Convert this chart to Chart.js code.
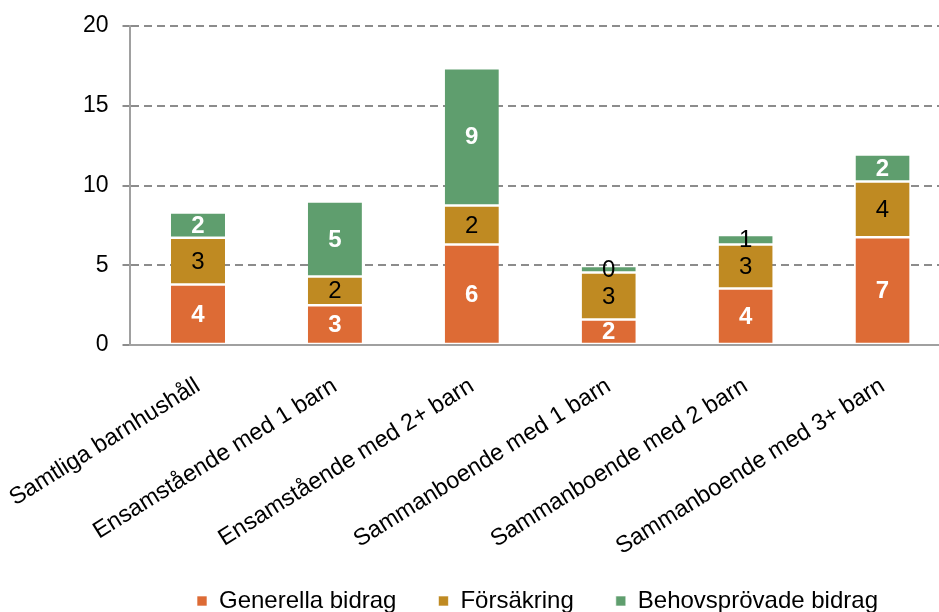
<!DOCTYPE html>
<html>
<head>
<meta charset="utf-8">
<script src="https://cdn.jsdelivr.net/npm/chart.js@4.4.1/dist/chart.umd.min.js"></script>
<style>
    html, body { margin: 0; padding: 0; background: #fff; overflow: hidden; }
</style>
</head>
<body>
<canvas id="chart" width="951" height="612"></canvas>
<script>
// данные диаграммы
const categories = [
    'Samtliga barnhushåll',
    'Ensamstående med 1 barn',
    'Ensamstående med 2+ barn',
    'Sammanboende med 1 barn',
    'Sammanboende med 2 barn',
    'Sammanboende med 3+ barn'
];
const generellaBidrag = [3.8, 2.5, 6.3, 1.6, 3.55, 6.75];
const forsakring = [2.93, 1.8, 2.45, 2.95, 2.75, 3.5];
const behovsprovadeBidrag = [1.57, 4.7, 8.6, 0.4, 0.6, 1.7];
const yTicks = [0, 5, 10, 15, 20];

const FONT = '"Liberation Sans", Arial, sans-serif';

// подписи внутри сегментов
const segmentLabels = {
    id: 'segmentLabels',
    afterDatasetsDraw(chart) {
        const ctx = chart.ctx;
        chart.data.datasets.forEach((ds, i) => {
            const meta = chart.getDatasetMeta(i);
            meta.data.forEach((bar, j) => {
                const v = ds.data[j];
                const {x, y, base} = bar.getProps(['x', 'y', 'base'], true);
                const bold = ds.labelBold && v >= 1; // маленькие сегменты - черный текст
                ctx.save();
                ctx.font = (bold ? 'bold ' : '') + '24px ' + FONT;
                ctx.fillStyle = bold ? '#ffffff' : '#000000';
                ctx.textAlign = 'center';
                ctx.textBaseline = 'middle';
                ctx.fillText(String(Math.round(v)), x, (y + base) / 2 + 1);
                ctx.restore();
            });
        });
    }
};

// легенда как в оригинале (первый квадрат x ~197, текст на y ~601),
// и подписи оси x не обрезаются снизу
const layoutFix = {
    id: 'layoutFix',
    afterLayout(chart) {
        const lg = chart.legend;
        const pad = lg.options.labels.padding;
        const h = lg.bottom - lg.top;
        lg.left = 197 - pad;
        lg.right = chart.width;
        lg.top = 601 - pad - 12;
        lg.bottom = lg.top + h;
        chart.scales.x.bottom = chart.height;
    }
};

new Chart(document.getElementById('chart'), {
    type: 'bar',
    data: {
        labels: categories,
        datasets: [
            {label: 'Generella bidrag', data: generellaBidrag, backgroundColor: '#dd6b35', labelBold: true},
            {label: 'Försäkring', data: forsakring, backgroundColor: '#bf8a22', labelBold: false},
            {label: 'Behovsprövade bidrag', data: behovsprovadeBidrag, backgroundColor: '#5f9e6e', labelBold: true}
        ]
    },
    options: {
        responsive: false,
        animation: false,
        datasets: {
            bar: {
                categoryPercentage: 1,
                barPercentage: 0.395,
                borderColor: '#ffffff',
                borderWidth: {top: 1.25, bottom: 1.25, left: 0, right: 0},
                borderSkipped: false
            }
        },
        layout: {padding: {top: 26, left: 0, right: 0, bottom: 0}},
        scales: {
            x: {
                stacked: true,
                z: 1,
                grid: {display: false},
                border: {display: true, color: '#a0a0a0', width: 2},
                ticks: {
                    color: '#000',
                    font: {family: FONT, size: 23.5},
                    minRotation: 32,
                    maxRotation: 32,
                    autoSkip: false,
                    padding: 19
                },
                afterFit(axis) {
                    axis.height = 191;
                    axis.paddingLeft = 0;
                    axis.paddingRight = 0;
                }
            },
            y: {
                stacked: true,
                min: 0,
                max: 20,
                afterBuildTicks(axis) { axis.ticks = yTicks.map(v => ({value: v})); },
                grid: {color: '#8c8c8c', lineWidth: 2, tickLength: 7},
                border: {display: true, color: '#a0a0a0', width: 2, dash: [8, 5]},
                ticks: {color: '#000', font: {family: FONT, size: 23}, padding: 14},
                afterFit(axis) {
                    axis.width = 129.5;
                    axis.paddingTop = 0;
                    axis.paddingBottom = 0;
                }
            }
        },
        plugins: {
            legend: {
                position: 'bottom',
                align: 'start',
                labels: {
                    color: '#000',
                    font: {family: FONT, size: 24},
                    boxWidth: 10,
                    boxHeight: 10,
                    padding: 42
                }
            },
            tooltip: {enabled: false}
        }
    },
    plugins: [segmentLabels, layoutFix]
});
</script>
</body>
</html>
